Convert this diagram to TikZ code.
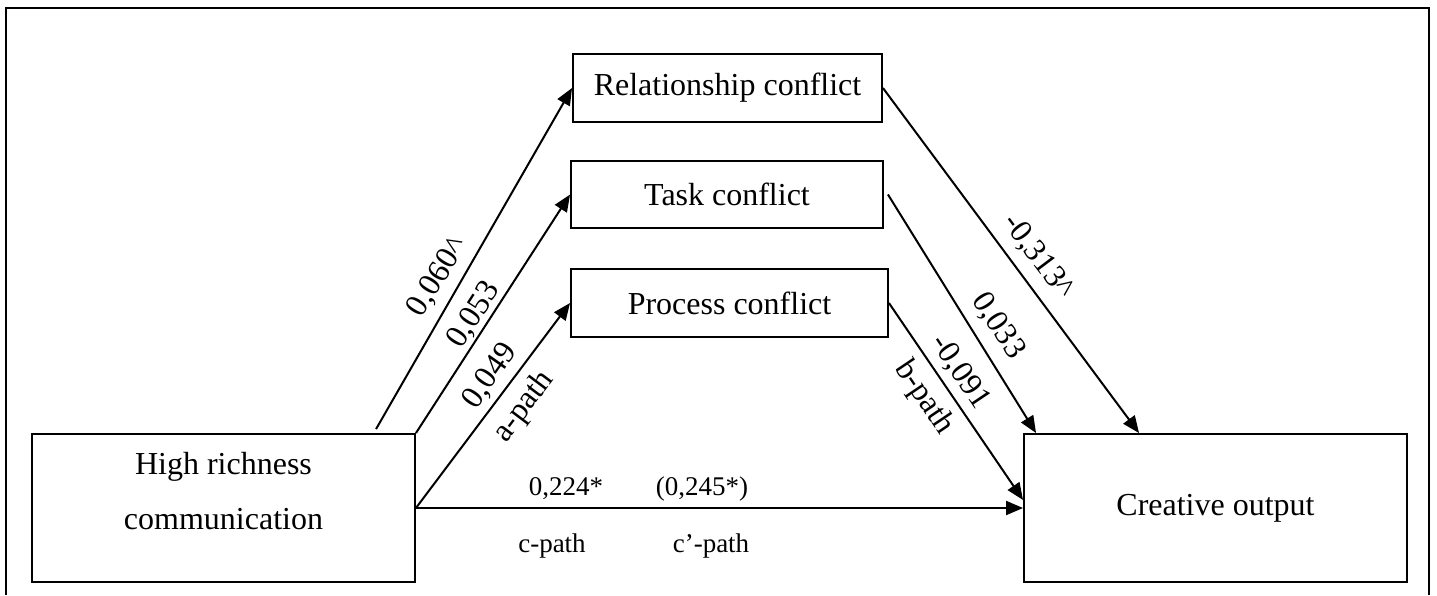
\documentclass[tikz,border=0pt]{standalone}
\usepackage{fontspec}
\setmainfont{Liberation Serif}
\usetikzlibrary{arrows.meta,calc}
\begin{document}
\begin{tikzpicture}[x=1pt,y=-1pt,
  box/.style={draw, line width=1.9pt, inner sep=0pt,
    font=\fontsize{32}{55}\selectfont, align=center},
  link/.style={line width=2pt, -{Triangle[length=17pt,width=14pt]}},
  lbl/.style={font=\fontsize{27}{30}\selectfont, inner sep=0pt},
  slbl/.style={font=\fontsize{32}{34}\selectfont, inner sep=0pt},
  frame/.style={line width=2pt, draw=black}]
\useasboundingbox (0,0) rectangle (1437,595);
% outer frame, open at the bottom
\draw[frame] (6,595) -- (6,8) -- (1429,8) -- (1429,595);

% boxes
\node[box, minimum width=383pt, minimum height=148pt,
  text height=77pt, text depth=35pt] (hrc) at (223.5,508) {High richness\\communication};
\node[box, minimum width=383pt, minimum height=148pt] (co) at (1215.5,508) {Creative output};
\node[box, minimum width=309pt, minimum height=68pt] (rel) at (727.5,88) {Relationship conflict};
\node[box, minimum width=312pt, minimum height=67pt] (task) at (727,194.5) {Task conflict};
\node[box, minimum width=317pt, minimum height=68pt] (proc) at (729.5,303) {Process conflict};

% free connector ends
\coordinate (relstart) at ($(hrc.north west)+(345,-4)$);
\coordinate (taskstart) at ($(task.east)+(4,0)$);
\coordinate (relend) at ($(co.north west)+(116,0)$);
\coordinate (taskend) at ($(co.north west)+(13,0)$);
\coordinate (procend) at ($(co.west)+(0,-8)$);

% a-paths
\draw[link] (relstart) -- (rel.west);
\draw[link] (hrc.north east) -- (task.west);
\draw[link] (hrc.east) -- (proc.west);
% c-path
\draw[link] (hrc.east) -- (co.west);
% b-paths
\draw[link] (rel.east) -- (relend);
\draw[link] (taskstart) -- (taskend);
\draw[link] (proc.east) -- (procend);

% coefficients along the a- and b-paths
\node[slbl, rotate=58] (l1) at (438,277) {0,060\textasciicircum};
\node[slbl, rotate=57] (l2) at (474,315) {0,053};
\node[slbl, rotate=55] (l3) at (490,376) {0,049};
\node[slbl, rotate=53] (l4) at (524,407) {a-path};
\node[slbl, rotate=-53] (r1) at (1038,257) {-0,313\textasciicircum};
\node[slbl, rotate=-57] (r2) at (998,326) {0,033};
\node[slbl, rotate=-56] (r3) at (960,372) {-0,091};
\node[slbl, rotate=-56] (r4) at (924,398) {b-path};
% coefficients along the c-path
\node[lbl, anchor=base] (c1) at (566,495) {0,224*};
\node[lbl, anchor=base] (c2) at (702,495) {(0,245*)};
\node[lbl, anchor=base] (c3) at (552,552) {c-path};
\node[lbl, anchor=base] (c4) at (711,552) {c’-path};
\end{tikzpicture}
\end{document}
